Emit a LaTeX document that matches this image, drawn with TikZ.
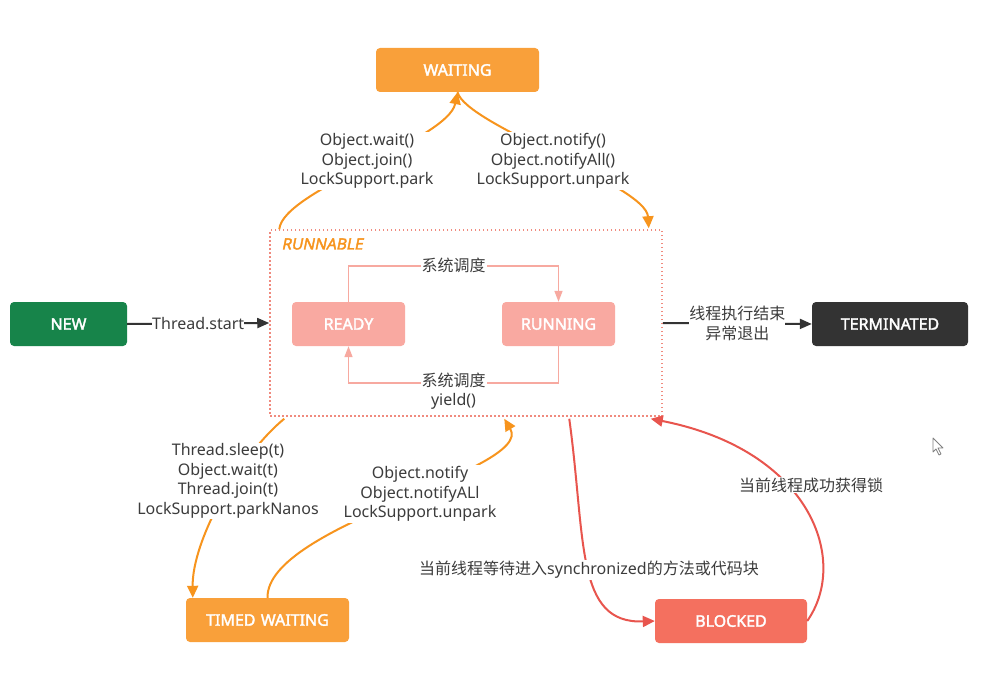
\documentclass[tikz,border=0pt]{standalone}
\usepackage{fontspec}
\setmainfont{Noto Sans}[AutoFakeBold=2.2]
\newfontfamily\cjk{Noto Sans CJK SC}
\newfontfamily\rfont{Noto Sans}[FakeBold=2.2, FakeSlant=0.2]
\usetikzlibrary{arrows.meta,calc}
\definecolor{orng}{HTML}{F9A03A}
\definecolor{arr}{HTML}{F7941D}
\definecolor{grn}{HTML}{17844A}
\definecolor{pinkb}{HTML}{F9A9A1}
\definecolor{pinkln}{HTML}{F7A9A0}
\definecolor{redb}{HTML}{F4705F}
\definecolor{redln}{HTML}{E8554E}
\definecolor{dark}{HTML}{333333}
\definecolor{txt}{HTML}{3C3C3C}
\definecolor{dotc}{HTML}{F08A7E}
\begin{document}
\begin{tikzpicture}[x=1pt,y=-1pt,
  statebox/.style={rounded corners=4pt, minimum height=44pt, text=white, font=\fontsize{16}{18}\selectfont\bfseries, inner sep=0pt},
  lbl/.style={fill=white, text=txt, font=\fontsize{16}{19.5}\selectfont, align=center, inner sep=1pt},
  oarr/.style={draw=arr, line width=2pt, -{Triangle[length=12pt,width=11pt]}},
  rarr/.style={draw=redln, line width=2pt, -{Triangle[length=12pt,width=11pt]}},
  parr/.style={draw=pinkln, line width=1.6pt, -{Triangle[length=11pt,width=8pt]}},
  darr/.style={draw=dark, line width=2pt, -{Triangle[length=12pt,width=10pt]}}]
\useasboundingbox[fill=white] (0,0) rectangle (988,690);

% states
\node[statebox, fill=orng, minimum width=163pt] (waiting) at (457.5,70) {WAITING};
\node[statebox, fill=grn, minimum width=117pt] (new) at (68.5,324) {NEW};
\node[draw=dotc, line width=1.5pt, dash pattern=on 1.5pt off 2.5pt, minimum width=392pt, minimum height=186pt, inner sep=0pt] (runnable) at (466,323) {};
\node[anchor=west, text=arr, font=\fontsize{15.5}{18}\selectfont\rfont] (rlbl) at (278,244) {RUNNABLE};
\node[statebox, fill=pinkb, minimum width=113pt] (ready) at (348.5,324) {READY};
\node[statebox, fill=pinkb, minimum width=113pt] (running) at (558.5,324) {RUNNING};
\node[statebox, fill=dark, minimum width=156pt] (term) at (890,324) {TERMINATED};
\node[statebox, fill=orng, minimum width=163pt] (timed) at (267.5,620) {TIMED\,\,WAITING};
\node[statebox, fill=redb, minimum width=152pt] (blocked) at (731,621) {BLOCKED};

% inner pink arrows
\draw[parr] (ready.north) -- ++(0,-36) -| node[pos=0.25, lbl, font=\fontsize{16}{19.5}\selectfont\cjk] (s1) {系统调度} (running.north);
\draw[parr] (running.south) -- ++(0,37) -| node[pos=0.25, lbl, yshift=-8pt] (s2) {{\cjk 系统调度}\\yield()} (ready.south);

% NEW -> RUNNABLE
\draw[darr] (new.east) -- node[lbl, inner sep=0pt] (ts) {Thread.start} (runnable.west);
% RUNNABLE -> TERMINATED
\draw[darr] (runnable.east) -- node[lbl, font=\fontsize{16}{20}\selectfont\cjk, inner sep=0pt] (te) {线程执行结束\\异常退出} (term.west);

% WAITING arrows
\draw[oarr] ($(runnable.north west)+(10,0)$) .. controls (283,190) and (448,140) .. (waiting.south);
\node[lbl] (w1) at (367,161) {Object.wait()\\Object.join()\\LockSupport.park};
\draw[oarr] (waiting.south) .. controls (466,125) and (646,185) .. ($(runnable.north east)+(-14,-1)$);
\node[lbl] (w2) at (553,161) {Object.notify()\\Object.notifyAll()\\LockSupport.unpark};

% TIMED WAITING arrows
\draw[oarr] ($(runnable.south west)+(15,2)$) .. controls (240,455) and (192,540) .. ($(timed.north west)+(7,0)$);
\node[lbl] (t1) at (228,481) {Thread.sleep(t)\\Object.wait(t)\\Thread.join(t)\\LockSupport.parkNanos};
\draw[oarr] (timed.north) .. controls (266,525) and (535,470) .. ($(runnable.south west)+(235,2)$);
\node[lbl] (t2) at (420,494) {Object.notify\\Object.notifyALl\\LockSupport.unpark};

% BLOCKED arrows
\draw[rarr] ($(runnable.south west)+(300,2)$) .. controls (586,540) and (575,624) .. (blocked.west);
\node[lbl] (b1) at (589,570) {{\cjk 当前线程等待进入}synchronized{\cjk 的方法或代码块}};
\draw[rarr] (blocked.east) .. controls (850,560) and (810,450) .. ($(runnable.south east)+(-12,2)$);
\node[lbl, font=\fontsize{16}{19.5}\selectfont\cjk] (b2) at (811,485) {当前线程成功获得锁};

% mouse cursor
\draw[gray, line width=0.8pt, fill=white, line join=round] (933,438) -- (933,452) -- (936,449) -- (939,455) -- (941,454) -- (938,448) -- (943,448) -- cycle;
\end{tikzpicture}
\end{document}
